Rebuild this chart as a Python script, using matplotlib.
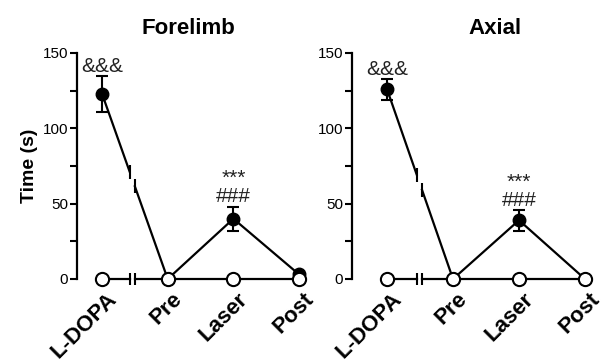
import numpy as np
import matplotlib
matplotlib.use("Agg")
import matplotlib.pyplot as plt
from matplotlib.transforms import ScaledTranslation

plt.rcParams['font.family'] = ['Liberation Sans', 'DejaVu Sans']

categories = ["L-DOPA", "Pre", "Laser", "Post"]
y_ticks = [0, 50, 100, 150]

# Forelimb
fore_laser_mean = [123, 0, 40, 3]
fore_laser_err = [12, 0, 8, 0]
fore_ctrl_mean = [0, 0, 0, 0]
# Axial
axial_laser_mean = [126, 0, 39, 0]
axial_laser_err = [7, 0, 7, 0]
axial_ctrl_mean = [0, 0, 0, 0]

panels = [
    dict(title="Forelimb", laser=fore_laser_mean, err=fore_laser_err, ctrl=fore_ctrl_mean,
         amp=("&&&", 141), star=("***", 67), hash_=("###", 55), brk=(0.42, 0.50)),
    dict(title="Axial", laser=axial_laser_mean, err=axial_laser_err, ctrl=axial_ctrl_mean,
         amp=("&&&", 139), star=("***", 64), hash_=("###", 52), brk=(0.45, 0.53)),
]

W, H = 603, 364
fig = plt.figure(figsize=(W / 100, H / 100), dpi=100)

# axes geometry in pixels: (spine_x, x0_pixel, spacing, title centre)
geoms = [(77, 102, 65.7, 188), (352, 387, 66.0, 495)]
y_bot, y_top = 279, 53

for i, (p, g) in enumerate(zip(panels, geoms)):
    spine_x, x0p, sp, title_x = g
    xmin = -(x0p - spine_x) / sp
    xmax = 3.3
    width_px = (xmax - xmin) * sp
    ax = fig.add_axes([spine_x / W, (H - y_bot) / H, width_px / W, (y_bot - y_top) / H])
    ax.set_xlim(xmin, xmax)
    ax.set_ylim(0, 150)
    x = np.arange(len(categories))
    b0, b1 = p["brk"]

    def broken(yvals, tick=8, **kw):
        yv = np.asarray(yvals, dtype=float)
        ya = np.interp(b0, x, yv)
        yb = np.interp(b1, x, yv)
        ax.plot([x[0], b0], [yv[0], ya], clip_on=False, **kw)
        ax.plot(np.r_[b1, x[1:]], np.r_[yb, yv[1:]], clip_on=False, **kw)
        ax.plot([b0, b1], [ya, yb], linestyle='none', marker='|', markersize=tick,
                markeredgewidth=1.5, color='black', clip_on=False, zorder=kw.get('zorder', 2))

    # laser (filled) series
    broken(p["laser"], tick=10, color='black', lw=1.6, zorder=2)
    ax.errorbar(x, p["laser"], yerr=p["err"], fmt='o', color='black', markersize=9,
                capsize=4.5, elinewidth=1.5, capthick=1.5, clip_on=False, zorder=3)
    # control (open) series
    broken(p["ctrl"], tick=8, color='black', lw=1.6, zorder=4)
    ax.plot(x, p["ctrl"], 'o', markersize=9.5, markerfacecolor='white',
            markeredgecolor='black', markeredgewidth=1.5, linestyle='none',
            clip_on=False, zorder=5)

    # annotations
    ax.text(0, p["amp"][1], p["amp"][0], ha='center', va='center', fontsize=15, color='#222222')
    ax.text(2, p["star"][1], p["star"][0], ha='center', va='center', fontsize=15, color='#222222')
    ax.text(2, p["hash_"][1], p["hash_"][0], ha='center', va='center', fontsize=15, color='#222222')

    # spines
    for s in ("top", "right", "bottom"):
        ax.spines[s].set_visible(False)
    ax.spines["left"].set_linewidth(1.6)
    ax.set_yticks(y_ticks)
    ax.set_yticks([25, 75, 125], minor=True)
    ax.tick_params(axis='y', which='major', length=5, width=1.5, labelsize=11, pad=1.5)
    ax.tick_params(axis='y', which='minor', length=5, width=1.5)
    ax.set_xticks(x)
    ax.set_xticklabels(categories, rotation=45, ha='right', va='top',
                       rotation_mode='anchor', fontsize=16, fontweight='bold')
    ax.tick_params(axis='x', length=0, pad=7)
    for lab in ax.get_xticklabels():
        lab.set_transform(lab.get_transform() + ScaledTranslation(4 / 100, 0, fig.dpi_scale_trans))
    ax.patch.set_visible(False)

    ax.set_title(p["title"], fontsize=16, fontweight='bold', x=(title_x - spine_x) / width_px,
                 y=1.0, pad=14)
    if i == 0:
        ax.set_ylabel("Time (s)", fontsize=14, fontweight='bold', labelpad=3)

fig.savefig("out.png", dpi=100)
